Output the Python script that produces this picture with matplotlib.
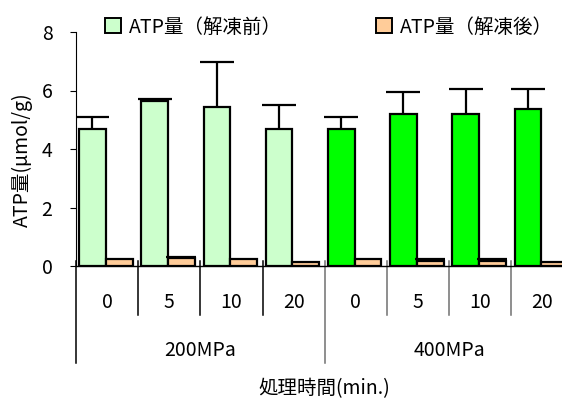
import matplotlib
matplotlib.use("Agg")
import matplotlib.pyplot as plt
from matplotlib.patches import Patch
import numpy as np

plt.rcParams["font.family"] = ["Noto Sans CJK JP", "DejaVu Sans"]

# ATP content before / after thawing, per pressure and holding time
pressures = ["200MPa", "400MPa"]
times = ["0", "5", "10", "20"]
atp_before = [4.67, 5.65, 5.42, 4.67, 4.67, 5.21, 5.21, 5.36]
atp_before_err = [0.44, 0.07, 1.54, 0.84, 0.44, 0.75, 0.83, 0.68]
atp_after = [0.23, 0.27, 0.23, 0.15, 0.23, 0.16, 0.16, 0.15]
atp_after_err = [0.0, 0.04, 0.0, 0.0, 0.0, 0.07, 0.07, 0.0]

light_green = "#CCFFCC"
green = "#00FF00"
peach = "#FFCC99"
fs = 14

fig = plt.figure(figsize=(5.62, 3.98), dpi=100)
ax = fig.add_axes([76 / 562, 132 / 398, 497.6 / 562, 234 / 398])

n = len(atp_before)
x = np.arange(n)
w = 0.43
before_colors = [light_green] * 4 + [green] * 4

ax.bar(x + 0.05, atp_before, width=w, align="edge", color=before_colors,
       edgecolor="black", linewidth=1.6, zorder=2)
ax.bar(x + 0.05 + w, atp_after, width=w, align="edge", color=peach,
       edgecolor="black", linewidth=1.6, zorder=2)


def upper_errorbar(xpos, vals, errs, cap):
    eb = ax.errorbar(xpos, vals, yerr=[np.zeros(len(vals)), errs], fmt="none",
                     ecolor="black", elinewidth=1.6, capsize=cap, capthick=1.6, zorder=3)
    # keep only the caps at the top of each error bar
    for cl in eb[1]:
        if np.allclose(cl.get_ydata(), vals):
            cl.set_visible(False)
    return eb


upper_errorbar(x + 0.05 + w / 2, atp_before, atp_before_err, 12)
# after-thaw bars: only those with a non-zero error get a bar
pos = [i for i in range(n) if atp_after_err[i] > 0]
upper_errorbar(x[pos] + 0.05 + 1.5 * w, np.array(atp_after)[pos],
               np.array(atp_after_err)[pos], 11)

ax.set_xlim(0, n)
ax.set_ylim(0, 8)
ax.set_yticks([0, 2, 4, 6, 8])
ax.tick_params(axis="y", labelsize=fs, length=4, width=0.8, direction="out", pad=13)
ax.set_xticks([])
ax.spines["top"].set_visible(False)
ax.spines["right"].set_visible(False)
ax.spines["left"].set_linewidth(0.8)
ax.spines["bottom"].set_linewidth(1.0)

trans = ax.get_xaxis_transform()
# category and group dividers below the axis
for i in range(n + 1):
    if i % 4 == 0:
        y_low = -0.415
    else:
        y_low = -0.209
    col = "black" if i < 4 else "#707070"
    ax.plot([i, i], [0.02, y_low], transform=trans, color=col, lw=1.1, clip_on=False)

for i in range(n):
    ax.text(i + 0.5, -0.154, times[i % 4], transform=trans, ha="center",
            va="center", fontsize=fs)
for g, name in enumerate(pressures):
    ax.text(g * 4 + 2, -0.359, name, transform=trans, ha="center",
            va="center", fontsize=fs)
ax.text(n / 2, -0.525, "処理時間(min.)", transform=trans, ha="center",
        va="center", fontsize=fs)

fig.text(22 / 562, 1 - 160 / 398, "ATP量(μmol/g)", rotation=90, ha="center",
         va="center", fontsize=fs)

# legend entries placed on the top line
legend_kw = dict(loc="center left", frameon=False, borderpad=0, borderaxespad=0,
                 handlelength=0.8, handleheight=0.8, handletextpad=0.45,
                 fontsize=fs)
leg1 = fig.legend(handles=[Patch(facecolor=light_green, edgecolor="black", lw=1.4)],
                  labels=["ATP量（解凍前）"], bbox_to_anchor=(105 / 562, 1 - 27 / 398),
                  **legend_kw)
leg2 = fig.legend(handles=[Patch(facecolor=peach, edgecolor="black", lw=1.4)],
                  labels=["ATP量（解凍後）"], bbox_to_anchor=(376 / 562, 1 - 27 / 398),
                  **legend_kw)

fig.savefig("out.png", dpi=100)
